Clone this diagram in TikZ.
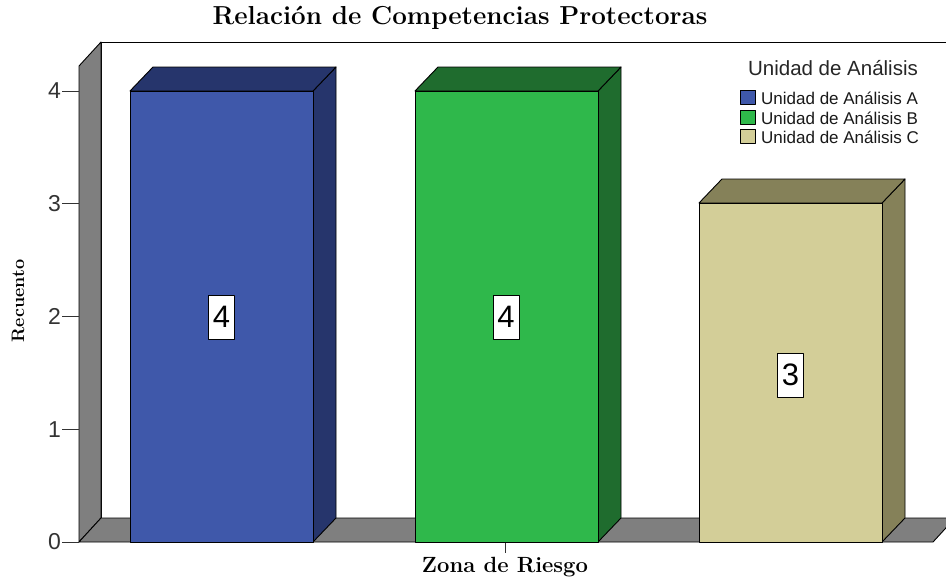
\documentclass[tikz,border=0pt]{standalone}
\usepackage{fontspec}
\newfontfamily\arial{Liberation Sans}
\definecolor{blueF}{HTML}{3F58AA}
\definecolor{blueD}{HTML}{26356C}
\definecolor{greenF}{HTML}{2FB84B}
\definecolor{greenD}{HTML}{1F6C2E}
\definecolor{tanF}{HTML}{D3CE98}
\definecolor{tanD}{HTML}{858159}
\definecolor{wallgray}{HTML}{7F7F7F}
\newcommand\chartbar[4]{%
  \draw[barline,fill=#4] (#1+183,542) -- (#1+183,#2) -- (#1+206,#2-24) -- (#1+206,518) -- cycle;
  \draw[barline,fill=#4] (#1,#2) -- (#1+23,#2-24) -- (#1+206,#2-24) -- (#1+183,#2) -- cycle;
  \draw[barline,fill=#3] (#1,#2) rectangle (#1+183,542);
}
\begin{document}
\begin{tikzpicture}[x=1pt,y=-1pt,line join=round,
  barline/.style={draw=black,line width=0.9pt},
  wall/.style={draw=black,line width=0.9pt,fill=wallgray},
  ticklab/.style={font=\arial\fontsize{23}{26}\selectfont,text=black!80,anchor=east,inner sep=0pt},
  valbox/.style={draw=black,line width=0.9pt,fill=white,minimum width=26pt,minimum height=44pt,inner sep=0pt,font=\arial\fontsize{31}{34}\selectfont},
  legbox/.style={draw=black,line width=0.8pt,minimum width=15pt,minimum height=14pt,inner sep=0pt},
  legtext/.style={font=\arial\fontsize{17}{19}\selectfont,anchor=west,inner sep=0pt,text=black!90},
  axlab/.style={font=\bfseries\fontsize{18}{20}\selectfont,inner sep=0pt}]
\useasboundingbox (0,0) rectangle (946,579);
\begin{scope}
  \clip (0,0) rectangle (946,579);
  \draw[barline,fill=white] (101,518) -- (101,42) -- (960,42) -- (960,518) -- cycle;
  \draw[wall] (79,542) -- (79,66) -- (101,42) -- (101,518) -- cycle;
  \draw[wall] (79,542) -- (933,542) -- (955,518) -- (101,518) -- cycle;
\end{scope}
\chartbar{130}{91}{blueF}{blueD}
\chartbar{415}{91}{greenF}{greenD}
\chartbar{699}{203}{tanF}{tanD}
% ticks
\foreach \v in {0,1,2,3,4}{
  \draw[line width=0.9pt,black!80] (62,542-112.75*\v) -- (79,542-112.75*\v);
  \node[ticklab] (t\v) at (61,542-112.75*\v) {\v};
}
\draw[line width=0.9pt,black!80] (505,543) -- (505,553);
% value labels
\node[valbox] (va) at (221.5,317) {4};
\node[valbox] (vb) at (506,317) {4};
\node[valbox] (vc) at (790.5,375) {3};
% titles
\node[font=\bfseries\fontsize{26}{30}\selectfont,inner sep=0pt] (title) at (460,18) {Relación de Competencias Protectoras};
\node[axlab,rotate=90] (ylab) at (18,301) {Recuento};
\node[axlab,font=\bfseries\fontsize{22}{24}\selectfont] (xlab) at (505,567) {Zona de Riesgo};
% legend
\node[font=\arial\fontsize{20.5}{22}\selectfont,inner sep=0pt,text=black!85] (legt) at (833,68) {Unidad de Análisis};
\node[legbox,fill=blueF] (la) at (748,97) {};
\node[legbox,fill=greenF] (lb) at (748,117) {};
\node[legbox,fill=tanF] (lc) at (748,136) {};
\node[legtext] (lta) at (761,98) {Unidad de Análisis A};
\node[legtext] (ltb) at (761,118) {Unidad de Análisis B};
\node[legtext] (ltc) at (761,137) {Unidad de Análisis C};
\end{tikzpicture}
\end{document}
